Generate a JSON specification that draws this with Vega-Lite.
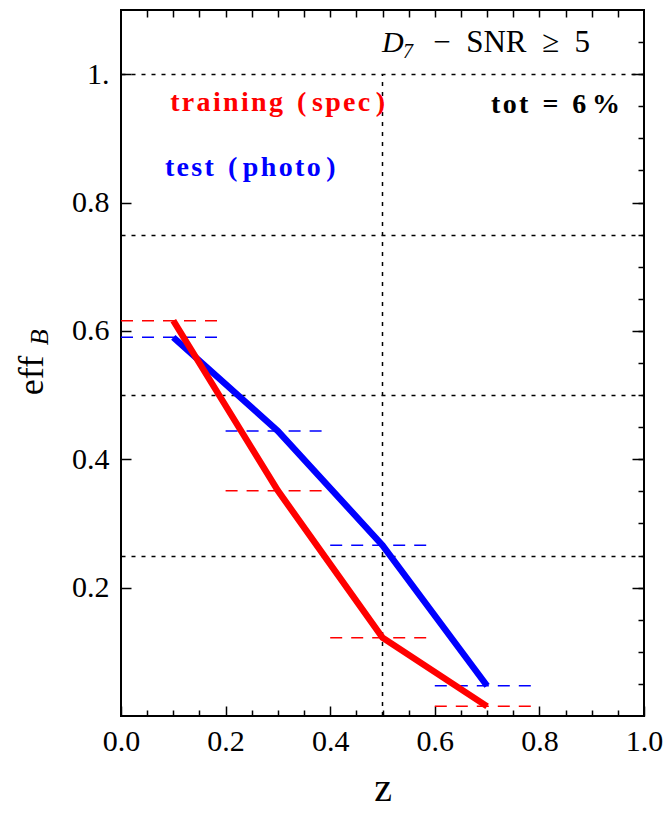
{
  "$schema": "https://vega.github.io/schema/vega-lite/v6.json",
  "width": 523,
  "height": 706,
  "autosize": {"type": "none"},
  "padding": {"left": 121, "top": 10, "right": 23, "bottom": 105},
  "background": "white",
  "config": {
    "view": {"stroke": "black", "strokeWidth": 2},
    "axis": {
      "domain": false,
      "grid": false,
      "labelFont": "Liberation Serif",
      "titleFont": "Liberation Serif",
      "tickColor": "black",
      "tickWidth": 1.5,
      "labelColor": "black",
      "titleColor": "black",
      "titleFontWeight": "normal",
      "labelFlush": false,
      "labelOverlap": false
    }
  },
  "datasets": {
    "eff": [
      {"sample": "training", "z": 0.1, "zlo": 0.0, "zhi": 0.2, "eff": 0.616},
      {"sample": "training", "z": 0.3, "zlo": 0.2, "zhi": 0.4, "eff": 0.351},
      {"sample": "training", "z": 0.5, "zlo": 0.4, "zhi": 0.6, "eff": 0.122},
      {"sample": "training", "z": 0.7, "zlo": 0.6, "zhi": 0.8, "eff": 0.015},
      {"sample": "test", "z": 0.1, "zlo": 0.0, "zhi": 0.2, "eff": 0.590},
      {"sample": "test", "z": 0.3, "zlo": 0.2, "zhi": 0.4, "eff": 0.444},
      {"sample": "test", "z": 0.5, "zlo": 0.4, "zhi": 0.6, "eff": 0.266},
      {"sample": "test", "z": 0.7, "zlo": 0.6, "zhi": 0.8, "eff": 0.047}
    ],
    "one": [{}]
  },
  "resolve": {
    "scale": {"x": "shared", "y": "shared", "color": "shared"},
    "axis": {"x": "independent", "y": "independent"}
  },
  "layer": [
    {
      "data": {"name": "one"},
      "mark": {"type": "rule", "strokeDash": [4, 6], "color": "black", "strokeWidth": 1.5},
      "encoding": {
        "x": {"datum": 0.5, "type": "quantitative",
          "scale": {"domain": [0, 1], "nice": false, "zero": false},
          "axis": {"orient": "top", "values": [0.05,0.1,0.15,0.2,0.25,0.3,0.35,0.4,0.45,0.5,0.55,0.6,0.65,0.7,0.75,0.8,0.85,0.9,0.95], "tickSize": -7, "labels": false, "title": null}},
        "y": {"datum": 0, "type": "quantitative",
          "scale": {"domain": [0, 1.1], "nice": false, "zero": false},
          "axis": {"orient": "left", "values": [0.25, 0.5, 0.75, 1.0], "grid": true, "gridDash": [4, 6], "gridColor": "black", "gridWidth": 1.5, "gridOpacity": 1, "ticks": false, "labels": false, "title": null}},
        "y2": {"datum": 1}
      }
    },
    {
      "data": {"name": "eff"},
      "mark": {"type": "rule", "strokeDash": [12, 9], "strokeWidth": 1.5},
      "encoding": {
        "x": {"field": "zlo", "type": "quantitative",
          "axis": {"orient": "bottom", "values": [0, 0.2, 0.4, 0.6, 0.8, 1.0], "format": ".1f", "tickSize": -10, "labelPadding": 20, "labelFontSize": 30, "title": "z", "titleFontSize": 40, "titleY": 84, "titleBaseline": "alphabetic"}},
        "x2": {"field": "zhi"},
        "y": {"field": "eff", "type": "quantitative",
          "axis": {"orient": "left", "values": [0.2, 0.4, 0.6, 0.8, 1.0], "labelExpr": "datum.value == 1 ? '1.' : format(datum.value, '.1f')", "tickSize": -10, "labelPadding": 22, "labelFontSize": 30, "title": "eff", "titleFontSize": 36, "titleX": -79, "titleY": 365, "titleAngle": 270, "titleBaseline": "alphabetic", "titleAlign": "center"}},
        "color": {"field": "sample", "type": "nominal",
          "scale": {"domain": ["training", "test"], "range": ["#ff0000", "#0000ff"]}, "legend": null}
      }
    },
    {
      "data": {"name": "eff"},
      "transform": [{"filter": "datum.sample == 'test'"}],
      "mark": {"type": "line", "strokeWidth": 6.5},
      "encoding": {
        "x": {"field": "z", "type": "quantitative",
          "axis": {"orient": "bottom", "values": [0.05,0.1,0.15,0.25,0.3,0.35,0.45,0.5,0.55,0.65,0.7,0.75,0.85,0.9,0.95], "tickSize": -6, "labels": false, "title": null}},
        "y": {"field": "eff", "type": "quantitative",
          "axis": {"orient": "right", "values": [0.05,0.1,0.15,0.2,0.25,0.3,0.35,0.4,0.45,0.5,0.55,0.6,0.65,0.7,0.75,0.8,0.85,0.9,0.95,1.0,1.05], "tickSize": -6, "labels": false, "title": null}},
        "color": {"field": "sample", "type": "nominal", "legend": null}
      }
    },
    {
      "data": {"name": "eff"},
      "transform": [{"filter": "datum.sample == 'training'"}],
      "mark": {"type": "line", "strokeWidth": 6.5},
      "encoding": {
        "x": {"field": "z", "type": "quantitative", "axis": null},
        "y": {"field": "eff", "type": "quantitative",
          "axis": {"orient": "right", "values": [0.2, 0.4, 0.6, 0.8, 1.0], "tickSize": -12, "labels": false, "title": null}},
        "color": {"field": "sample", "type": "nominal", "legend": null}
      }
    },
    {
      "data": {"name": "one"},
      "mark": {"type": "text", "text": "t\u200ar\u200aa\u200ai\u200an\u200ai\u200an\u200ag\u00a0\u00a0(\u2009s\u200ap\u200ae\u200ac\u2009)", "font": "Liberation Serif", "fontSize": 28, "fontWeight": "bold", "color": "#ff0000", "align": "left", "baseline": "middle"},
      "encoding": {
        "x": {"datum": 0.094, "type": "quantitative", "axis": null},
        "y": {"datum": 0.955, "type": "quantitative", "axis": null}
      }
    },
    {
      "data": {"name": "one"},
      "mark": {"type": "text", "text": "t\u200ae\u200as\u200at\u00a0\u00a0(\u2009p\u200ah\u200ao\u200at\u200ao\u2009)", "font": "Liberation Serif", "fontSize": 28, "fontWeight": "bold", "color": "#0000ff", "align": "left", "baseline": "middle"},
      "encoding": {
        "x": {"datum": 0.084, "type": "quantitative", "axis": null},
        "y": {"datum": 0.854, "type": "quantitative", "axis": null}
      }
    },
    {
      "data": {"name": "one"},
      "mark": {"type": "text", "text": "t\u200ao\u200at\u00a0\u00a0=\u00a0\u00a06\u2009%", "font": "Liberation Serif", "fontSize": 28, "fontWeight": "bold", "color": "black", "align": "right", "baseline": "middle"},
      "encoding": {
        "x": {"datum": 0.954, "type": "quantitative", "axis": null},
        "y": {"datum": 0.952, "type": "quantitative", "axis": null}
      }
    },
    {
      "data": {"name": "one"},
      "mark": {"type": "text", "text": "D", "font": "Liberation Serif", "fontSize": 30, "fontStyle": "italic", "color": "black", "align": "left", "baseline": "alphabetic"},
      "encoding": {
        "x": {"datum": 0.499, "type": "quantitative", "axis": null},
        "y": {"datum": 1.0346, "type": "quantitative", "axis": null}
      }
    },
    {
      "data": {"name": "one"},
      "mark": {"type": "text", "text": "7", "font": "Liberation Serif", "fontSize": 20, "fontStyle": "italic", "color": "black", "align": "left", "baseline": "alphabetic"},
      "encoding": {
        "x": {"datum": 0.539, "type": "quantitative", "axis": null},
        "y": {"datum": 1.025, "type": "quantitative", "axis": null}
      }
    },
    {
      "data": {"name": "one"},
      "mark": {"type": "text", "text": "\u2212\u00a0\u00a0SNR\u00a0\u00a0\u2265\u00a0\u00a05", "font": "Liberation Serif", "fontSize": 31, "color": "black", "align": "left", "baseline": "alphabetic"},
      "encoding": {
        "x": {"datum": 0.597, "type": "quantitative", "axis": null},
        "y": {"datum": 1.0346, "type": "quantitative", "axis": null}
      }
    },
    {
      "data": {"name": "one"},
      "mark": {"type": "text", "text": "B", "font": "Liberation Serif", "fontSize": 26, "fontStyle": "italic", "color": "black", "align": "center", "baseline": "alphabetic", "angle": 270},
      "encoding": {
        "x": {"datum": -0.14, "type": "quantitative", "axis": null},
        "y": {"datum": 0.59, "type": "quantitative", "axis": null}
      }
    }
  ]
}
